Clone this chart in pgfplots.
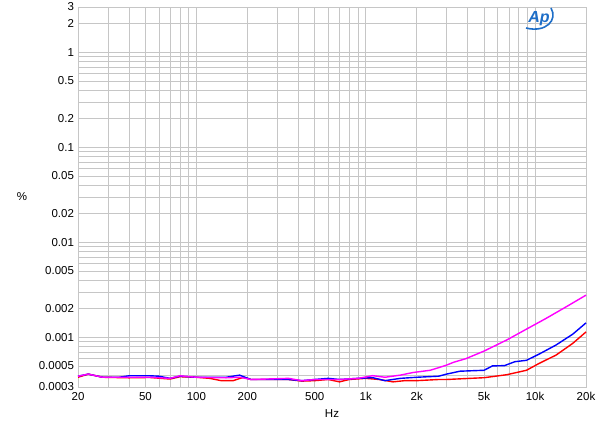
\documentclass[border=0pt]{standalone}
\usepackage{fontspec}
\setmainfont{Liberation Sans}
\usepackage{pgfplots}
\pgfplotsset{compat=1.18}

\definecolor{apblue}{RGB}{30,110,200}
\definecolor{lred}{RGB}{255,0,0}
\definecolor{lblue}{RGB}{0,0,255}
\definecolor{lmag}{RGB}{255,0,255}

\begin{document}
\fontsize{11.5bp}{14bp}\selectfont
\begin{tikzpicture}[x=1bp,y=1bp]
\path[use as bounding box] (0,0) rectangle (600,432);
\begin{axis}[
  at={(78bp,45bp)}, anchor=south west,
  width=508bp, height=380bp, scale only axis,
  xmode=log, ymode=log,
  xmin=20, xmax=20000, ymin=0.0003, ymax=3,
  xtick={20,50,100,200,500,1000,2000,5000,10000,20000},
  xticklabels={20,50,100,200,500,1k,2k,5k,10k,20k},
  ytick={0.0003,0.0005,0.001,0.002,0.005,0.01,0.02,0.05,0.1,0.2,0.5,1,2,3},
  yticklabels={0.0003,0.0005,0.001,0.002,0.005,0.01,0.02,0.05,0.1,0.2,0.5,1,2,3},
  minor xtick={30,40,60,70,80,90,300,400,600,700,800,900,3000,4000,6000,7000,8000,9000},
  minor ytick={0.0004,0.0006,0.0007,0.0008,0.0009,0.003,0.004,0.006,0.007,0.008,0.009,0.03,0.04,0.06,0.07,0.08,0.09,0.3,0.4,0.6,0.7,0.8,0.9},
  grid=both,
  major grid style={gray!45, line width=0.6bp},
  minor grid style={gray!45, line width=0.6bp},
  tick style={draw=none},
  axis line style={gray!45},
  /pgf/number format/assume math mode=true,
  xlabel={Hz}, ylabel={\%},
  xlabel style={at={(axis description cs:0.5,0)}, anchor=north, yshift=-19bp},
  ylabel style={rotate=-90, at={(axis description cs:0,0.5)}, anchor=center, xshift=-56bp},
  ticklabel style={font=\fontsize{11.5bp}{14bp}\selectfont},
  xticklabel style={yshift=-1bp},
  clip=false,
]
\addplot[lred, line width=1.4bp] coordinates {
(20,0.00038) (23,0.00041) (28,0.00038) (40,0.000375) (53,0.000378)
(70,0.000364) (80,0.000385) (100,0.00038) (120,0.00037) (140,0.00035)
(165,0.00035) (190,0.00038) (210,0.00036) (350,0.00036) (420,0.000346)
(500,0.00035) (600,0.00036) (700,0.00034) (800,0.00036) (1000,0.00037)
(1200,0.00036) (1450,0.00034) (1700,0.00035) (2000,0.00035) (2700,0.00036)
(3000,0.00036) (5000,0.000376) (6800,0.000404) (8900,0.00045)
(10600,0.000533) (13300,0.00065) (16700,0.000864) (20000,0.00114)
};
\addplot[lblue, line width=1.4bp] coordinates {
(20,0.00039) (23,0.00041) (28,0.00038) (35,0.00038) (40,0.000394)
(53,0.000394) (60,0.00039) (70,0.00037) (80,0.00039) (100,0.00038)
(150,0.00038) (180,0.0004) (210,0.00036) (300,0.00036) (350,0.00036)
(420,0.00035) (500,0.00036) (600,0.00037) (700,0.00036) (900,0.00037)
(1100,0.000376) (1300,0.00035) (1600,0.00037) (2000,0.00038)
(2700,0.00039) (3000,0.00041) (3600,0.00044) (5000,0.00045)
(5600,0.0005) (6600,0.000504) (7600,0.000554) (8900,0.000573)
(10600,0.000668) (13300,0.00083) (16700,0.00108) (20000,0.00142)
};
\addplot[lmag, line width=1.4bp] coordinates {
(20,0.00039) (23,0.00041) (28,0.00038) (40,0.00038) (53,0.00038)
(70,0.00037) (80,0.000394) (100,0.00038) (150,0.000375) (180,0.00038)
(210,0.00036) (350,0.00037) (420,0.00035) (500,0.00036) (700,0.00036)
(900,0.00037) (1100,0.000395) (1300,0.00038) (1600,0.0004)
(1900,0.000426) (2400,0.00045) (2700,0.00048) (3000,0.00051)
(3300,0.000546) (3900,0.000596) (5000,0.000717) (6800,0.000937)
(8900,0.00122) (11600,0.00158) (15300,0.0021) (20000,0.00278)
};
\end{axis}
% Ap logo
\node[apblue, font=\fontsize{16bp}{16bp}\selectfont\bfseries\itshape] at (539,413) {Ap};
\draw[apblue, line width=1.6bp] (526,404) .. controls (546,399) and (558,412) .. (551,424);
\end{tikzpicture}
\end{document}
